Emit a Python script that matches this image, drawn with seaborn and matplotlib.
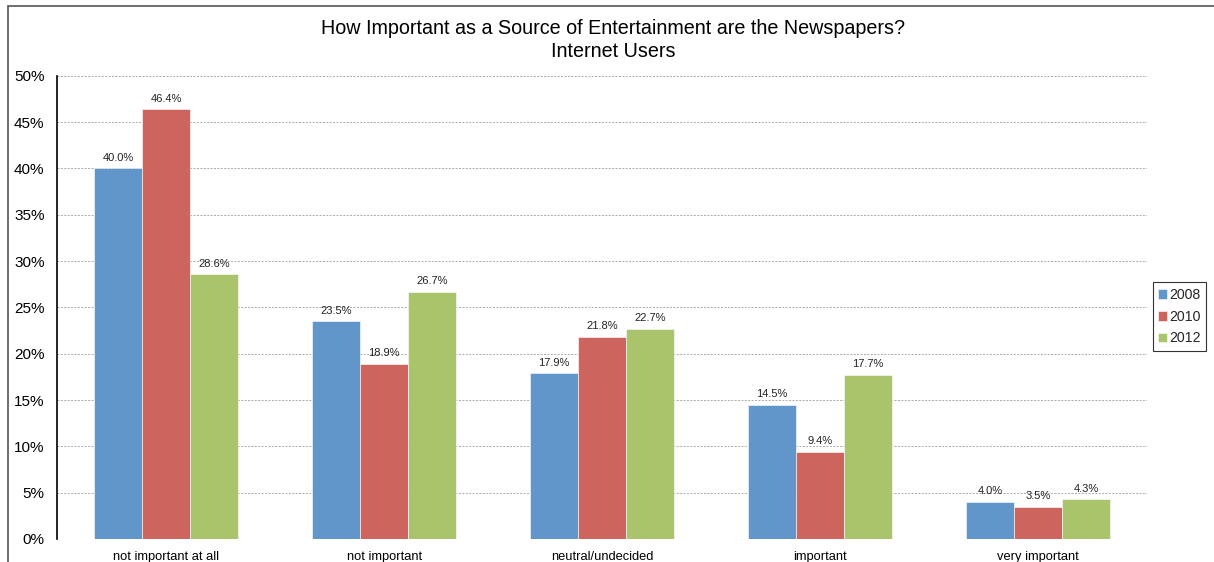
import matplotlib
matplotlib.use("Agg")
import matplotlib.pyplot as plt
from matplotlib.patches import Rectangle
from matplotlib.ticker import MultipleLocator, FuncFormatter
import seaborn as sns
import pandas as pd

categories = ["not important at all", "not important", "neutral/undecided",
              "important", "very important"]
years = ["2008", "2010", "2012"]
values_2008 = [40.0, 23.5, 17.9, 14.5, 4.0]
values_2010 = [46.4, 18.9, 21.8, 9.4, 3.5]
values_2012 = [28.6, 26.7, 22.7, 17.7, 4.3]
colors = ["#6096C9", "#CD655E", "#AAC46C"]

df = pd.DataFrame({
    "category": categories * 3,
    "year": [y for y in years for _ in categories],
    "value": values_2008 + values_2010 + values_2012,
})

sns.set_theme(style="white")
plt.rcParams["font.family"] = ["Liberation Sans", "DejaVu Sans"]

fig = plt.figure(figsize=(12.14, 5.62), dpi=100)
ax = fig.add_axes([0.047, 0.041, 0.898, 0.824])

sns.barplot(data=df, x="category", y="value", hue="year", order=categories,
            hue_order=years, palette=colors, width=0.66, saturation=1,
            edgecolor="white", linewidth=0.4, ax=ax, legend=True)

for cont in ax.containers:
    ax.bar_label(cont, labels=[f"{v:.1f}%" for v in cont.datavalues],
                 padding=4, fontsize=8, color="#222222")

ax.set_ylim(0, 50)
ax.yaxis.set_major_locator(MultipleLocator(5))
ax.yaxis.set_major_formatter(FuncFormatter(lambda v, _: f"{v:.0f}%"))
ax.set_xlim(-0.5, 4.5)
ax.grid(axis="y", color="#aaaaaa", linestyle=(0, (2, 1.5)), linewidth=0.7)
ax.set_axisbelow(True)
ax.set_xlabel("")
ax.set_ylabel("")
for side in ["top", "right", "bottom"]:
    ax.spines[side].set_visible(False)
ax.spines["left"].set_color("black")
ax.spines["left"].set_linewidth(1.2)
ax.tick_params(axis="y", labelsize=11, length=0, pad=9, colors="black")
ax.tick_params(axis="x", labelsize=9.3, length=0, pad=9, colors="black")

fig.text(613 / 1214, 1 - 19 / 562,
         "How Important as a Source of Entertainment are the Newspapers?\nInternet Users",
         fontsize=14.2, linespacing=1.25, ha="center", va="top", color="black")

leg = ax.legend(loc="center left", bbox_to_anchor=(1.005, 0.48), frameon=True,
                borderaxespad=0, fontsize=10.2, handlelength=0.6, handleheight=0.7,
                handletextpad=0.15, borderpad=0.4, labelspacing=0.55, fancybox=False)
leg.get_frame().set_edgecolor("black")
leg.get_frame().set_linewidth(0.8)

# outer chart border
fig.patches.append(Rectangle((8 / 1214, -0.2), 1.2, 1.2 - 6 / 562,
                             transform=fig.transFigure, fill=False,
                             edgecolor="#555555", linewidth=1.2))

fig.savefig("out.png", dpi=100)
